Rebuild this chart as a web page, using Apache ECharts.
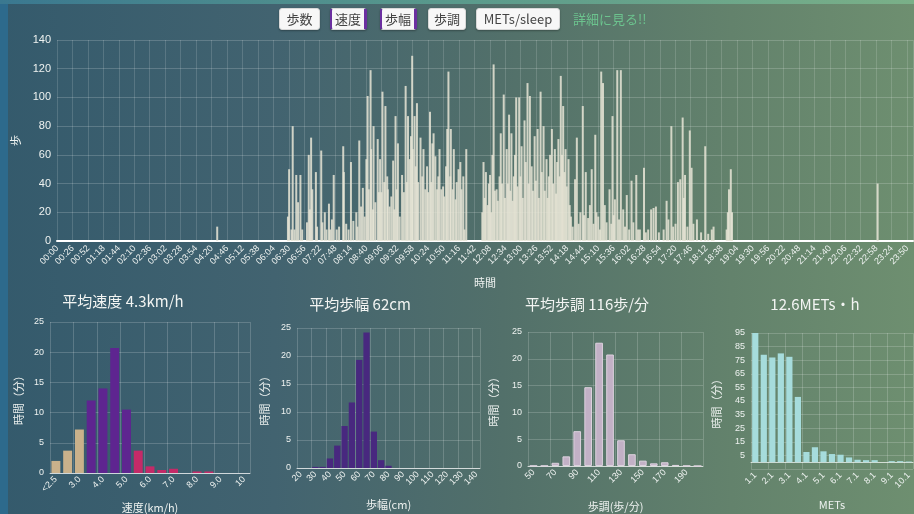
<!DOCTYPE html>
<html>
<head>
<meta charset="utf-8">
<script src="https://cdn.jsdelivr.net/npm/echarts@6/dist/echarts.min.js"></script>
<style>
html, body { margin: 0; padding: 0; }
body {
  width: 914px; height: 514px; overflow: hidden; position: relative;
  background: linear-gradient(90deg, #345a6c 0%, #426370 30%, #52706a 55%, #63826c 80%, #6e8f70 100%);
  font-family: 'Noto Sans CJK JP', sans-serif;
}
#strip-left { position: absolute; left: 0; top: 0; width: 8px; height: 514px; background: #2d6a8c; }
#strip-top { position: absolute; left: 0; top: 0; width: 914px; height: 4px; background: linear-gradient(90deg, #3a7890, #5a9a8c 50%, #7ab088); }
#graph { position: absolute; left: 0; top: 0; width: 914px; height: 514px; }
.btn {
  position: absolute; top: 8px; height: 22px; line-height: 20px; box-sizing: border-box;
  background: #f7f7f7; border: 1px solid #d8d8d8; border-radius: 3px;
  color: #444; font-size: 13px; text-align: center; box-shadow: 0 1px 2px rgba(0,0,0,.3);
}
.purple { border-left: 2px solid #6b2fa0; border-right: 3px solid #6b2fa0; }
#more { position: absolute; top: 8px; left: 573px; line-height: 22px; font-size: 13px; color: #6cc38e; }
</style>
</head>
<body>
<div id="strip-left"></div>
<div id="strip-top"></div>
<div id="graph"></div>
<div class="btn" style="left:279px;width:41px">歩数</div>
<div class="btn purple" style="left:330px;width:37px">速度</div>
<div class="btn purple" style="left:380px;width:37px">歩幅</div>
<div class="btn" style="left:428px;width:38px">歩調</div>
<div class="btn" style="left:476px;width:84px">METs/sleep</div>
<div id="more">詳細に見る!!</div>
<script>
// 分単位の歩数 [分, 歩]
var stepsNight = [[269, 10], [1380, 40]];
var stepsMorning = [
  [388,17],[390,50],[394,8],[396,80],[399,8],[402,46],[405,27],[409,46],[412,8],[420,13],
  [423,60],[425,22],[427,72],[429,36],[435,48],[437,10],[444,63],[446,13],[450,20],[453,8],
  [457,26],[459,8],[462,15],[465,46],[470,8],[474,10],[481,66],[482,48],[486,12],[490,8],
  [494,55],[498,14],[503,20],[505,10],[508,70],[511,24],[514,37],[517,17],[520,57],[522,101],
  [524,36],[527,119],[528,64],[531,22],[532,80],[535,27],[539,71],[541,34],[543,57],[545,34],
  [547,104],[550,41],[552,94],[555,45],[556,36],[559,24],[562,31],[565,56],[567,22],[569,87],
  [571,36],[573,68],[576,17],[580,46],[583,34],[586,108],[588,41],[590,87],[593,57],[595,73],
  [597,129],[598,64],[601,87],[603,52],[605,96],[607,41],[611,72],[614,45],[616,64],[619,36],
  [622,52],[624,34],[627,90],[629,41],[631,68],[633,75],[636,59],[639,36],[641,45],[643,64],
  [646,36],[649,38],[651,31],[654,52],[656,78],[658,118],[661,45],[662,78],[665,36],[667,64],
  [670,29],[672,41],[675,50],[678,55],[680,36],[683,45],[685,8],[688,64]
];
var stepsAfternoon = [
  [715,20],[717,55],[719,30],[721,48],[724,25],[726,40],[728,46],[730,20],[732,60],[734,123],
  [736,35],[739,36],[741,28],[744,45],[746,75],[748,40],[751,102],[753,30],[756,64],[758,40],
  [760,88],[762,35],[764,75],[766,28],[768,45],[770,60],[772,100],[774,38],[777,100],[779,45],
  [781,66],[783,30],[786,84],[788,55],[791,110],[793,40],[795,101],[798,52],[800,35],[803,73],
  [805,42],[808,78],[810,30],[813,104],[815,48],[818,80],[820,35],[823,57],[825,30],[827,45],
  [829,60],[832,78],[834,40],[837,64],[839,33],[841,55],[843,71],[845,45],[847,115],[849,60],
  [851,94],[853,48],[855,64],[857,38],[860,57],[862,25],[864,17],[867,10],[871,43],[874,72],
  [877,12],[880,20],[884,94],[886,18],[889,48],[893,16],[896,25],[899,50],[902,12],[905,74],
  [907,20],[910,17],[913,8],[915,118],[918,110],[921,25],[924,13],[929,36],[932,12],[934,87],
  [936,18],[938,29],[942,119],[945,15],[948,119],[952,22],[955,10],[958,32],[962,8],[966,42],
  [969,13],[974,46],[977,8],[980,8],[987,51],[990,6],[994,8],[999,22],[1003,23],[1007,24],
  [1012,6],[1020,8],[1025,28],[1028,15],[1033,80],[1036,10],[1040,12],[1044,41],[1048,43],[1052,86],
  [1054,30],[1056,46],[1060,10],[1064,77],[1067,51],[1070,12],[1076,15],[1083,6],[1090,66],[1095,5],
  [1101,8],[1104,10],[1126,8],[1128,20],[1130,36],[1133,50],[1135,20]
];

var speedCats = ['<2.5','2.5','3.0','3.5','4.0','4.5','5.0','5.5','6.0','6.5','7.0','7.5','8.0','8.5','9.0','9.5','10'];
var speedMinutes = [2.0, 3.7, 7.2, 12.0, 14.0, 20.7, 10.5, 3.7, 1.1, 0.5, 0.7, 0, 0.25, 0.25, 0, 0, 0];

var strideCats = ['20','25','30','35','40','45','50','55','60','65','70','75','80','85','90','95','100','105','110','115','120','125','130','135','140'];
var strideMinutes = [0, 0, 0.2, 0.2, 1.7, 4.0, 7.5, 11.7, 19.3, 24.2, 6.5, 1.4, 0.4, 0, 0, 0, 0, 0, 0, 0, 0, 0, 0, 0, 0];

var cadenceCats = ['50','60','70','80','90','100','110','120','130','140','150','160','170','180','190','200'];
var cadenceMinutes = [0.05, 0.05, 0.6, 1.8, 6.5, 14.7, 23.0, 20.8, 4.8, 2.2, 1.0, 0.5, 0.7, 0.2, 0.05, 0];

var metsCats = ['1.1','1.6','2.1','2.6','3.1','3.6','4.1','4.6','5.1','5.6','6.1','6.6','7.1','7.6','8.1','8.6','9.1','9.6','10.1'];
var metsMinutes = [95, 79, 77, 80, 77.5, 48, 7.5, 11, 8, 6, 5.5, 3.5, 1.8, 1.5, 1.5, 0, 0.8, 0.8, 0.5];

function pad(n) { return (n < 10 ? '0' : '') + n; }
var minuteLabels = [];
var steps = [];
for (var m = 0; m < 1440; m++) {
  minuteLabels.push(pad(Math.floor(m / 60)) + ':' + pad(m % 60));
  steps.push(0);
}
[stepsNight, stepsMorning, stepsAfternoon].forEach(function (list) {
  list.forEach(function (p) { steps[p[0]] = p[1]; });
});

var chartDom = document.getElementById('graph');
var myChart = echarts.init(chartDom);

var txt = '#eef2f0';
var gridLine = { show: true, lineStyle: { color: 'rgba(255,255,255,0.18)' } };
var font = "'Noto Sans CJK JP', sans-serif";

function histX(idx, cats, name, gap) {
  return {
    type: 'category', gridIndex: idx, data: cats,
    name: name, nameLocation: 'middle', nameGap: gap,
    nameTextStyle: { color: txt, fontSize: 11, fontFamily: font },
    axisLabel: { interval: 1, rotate: 45, color: txt, fontSize: 9, margin: 5 },
    axisTick: { show: false },
    axisLine: { lineStyle: { color: 'rgba(255,255,255,0.7)' } },
    splitLine: { show: true, interval: 1, lineStyle: { color: 'rgba(255,255,255,0.18)' } }
  };
}
function histY(idx, min, max, interval, gap) {
  return {
    type: 'value', gridIndex: idx, min: min, max: max, interval: interval,
    name: '時間（分）', nameLocation: 'middle', nameGap: gap,
    nameTextStyle: { color: txt, fontSize: 11, fontFamily: font },
    axisLabel: {
      color: txt, fontSize: 9, margin: 6,
      formatter: function (v) { return v < 0 ? '' : v; }
    },
    axisLine: { show: false }, axisTick: { show: false },
    splitLine: gridLine
  };
}
function histTitle(text, center, top) {
  return {
    text: text, left: center - 5, top: top, textAlign: 'center',
    textStyle: { color: '#f2f4f2', fontSize: 15, fontWeight: 'normal', fontFamily: font }
  };
}

var option = {
  animation: false,
  title: [
    histTitle('平均速度 4.3km/h', 123, 289),
    histTitle('平均歩幅 62cm', 360, 292),
    histTitle('平均歩調 116歩/分', 587, 292),
    histTitle('12.6METs・h', 815, 292)
  ],
  grid: [
    { left: 57, right: 1, top: 40, bottom: 273 },
    { left: 50, width: 200, top: 322, bottom: 41 },
    { left: 297, width: 183, top: 328, bottom: 46 },
    { left: 528, width: 175, top: 332, bottom: 48 },
    { left: 751, right: 0, top: 333, bottom: 45 }
  ],
  xAxis: [
    {
      type: 'category', gridIndex: 0, data: minuteLabels,
      name: '時間', nameLocation: 'middle', nameGap: 36,
      nameTextStyle: { color: txt, fontSize: 11, fontFamily: font },
      axisLabel: { interval: 25, rotate: 45, color: txt, fontSize: 9, margin: 6 },
      axisTick: { show: false },
      axisLine: { lineStyle: { color: '#ffffff', width: 2 } },
      splitLine: { show: true, interval: 25, lineStyle: { color: 'rgba(255,255,255,0.15)' } }
    },
    histX(1, speedCats, '速度(km/h)', 29),
    histX(2, strideCats, '歩幅(cm)', 31),
    histX(3, cadenceCats, '歩調(歩/分)', 35),
    histX(4, metsCats, 'METs', 30)
  ],
  yAxis: [
    {
      type: 'value', gridIndex: 0, min: 0, max: 140, interval: 20,
      name: '歩', nameLocation: 'middle', nameGap: 34,
      nameTextStyle: { color: txt, fontSize: 11, fontFamily: font },
      axisLabel: { color: txt, fontSize: 11, margin: 6 },
      axisLine: { show: false }, axisTick: { show: false },
      splitLine: gridLine
    },
    histY(1, 0, 25, 5, 26),
    histY(2, 0, 25, 5, 27),
    histY(3, 0, 25, 5, 29),
    histY(4, -5, 95, 10, 29)
  ],
  series: [
    {
      name: '歩数', type: 'bar', xAxisIndex: 0, yAxisIndex: 0, data: steps,
      barWidth: 2, itemStyle: { color: 'rgba(232,229,214,0.85)' }
    },
    {
      name: '速度', type: 'bar', xAxisIndex: 1, yAxisIndex: 1, data: speedMinutes,
      barCategoryGap: '24%',
      itemStyle: {
        color: function (p) {
          return p.dataIndex < 3 ? '#c9b18b' : (p.dataIndex < 7 ? '#5e2590' : '#c42a68');
        }
      }
    },
    {
      name: '歩幅', type: 'bar', xAxisIndex: 2, yAxisIndex: 2, data: strideMinutes,
      barCategoryGap: '14%', itemStyle: { color: '#48287f' }
    },
    {
      name: '歩調', type: 'bar', xAxisIndex: 3, yAxisIndex: 3, data: cadenceMinutes,
      barCategoryGap: '30%', itemStyle: { color: '#c2b1c6', borderColor: '#ddd2de', borderWidth: 1 }
    },
    {
      name: 'METs', type: 'bar', xAxisIndex: 4, yAxisIndex: 4, data: metsMinutes,
      barCategoryGap: '27%', itemStyle: { color: '#a6dcdc' }
    }
  ]
};
myChart.setOption(option);
</script>
</body>
</html>
